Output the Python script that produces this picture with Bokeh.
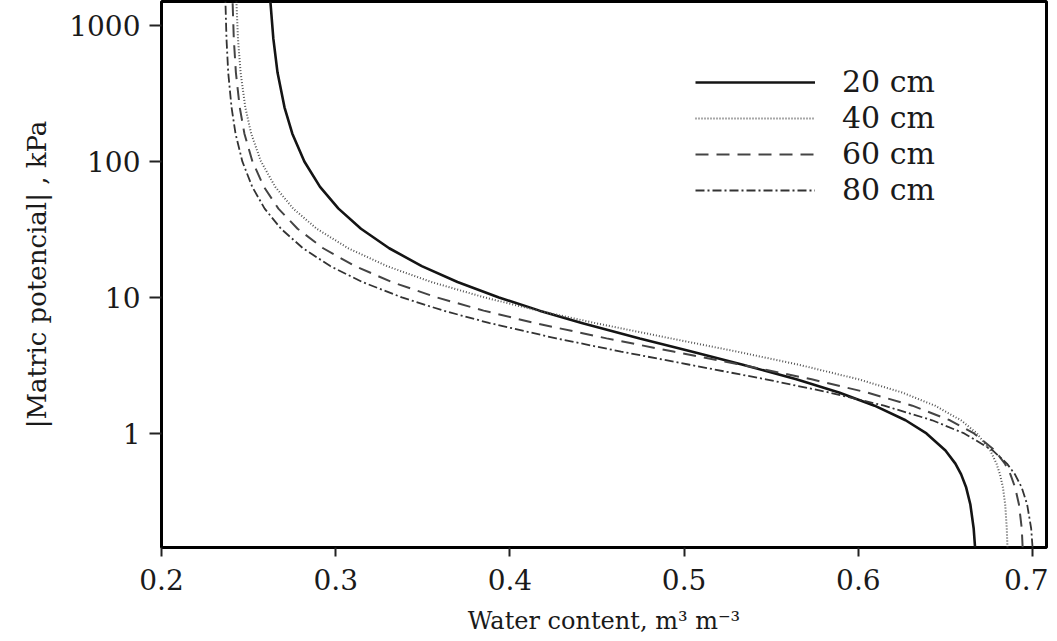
from bokeh.plotting import figure
from bokeh.models import (Legend, LegendItem, FixedTicker, PrintfTickFormatter, Range1d)
from bokeh.embed import file_html
from bokeh.resources import INLINE

# |Matric potential| (kPa) sampled along each curve
H = [0.145, 0.2, 0.3, 0.4, 0.5, 0.6, 0.75, 1, 1.25, 1.6, 2, 2.5, 3.2, 4, 5, 6.5, 8,
     10, 13, 17, 23, 32, 45, 65, 100, 160, 250, 450, 800, 1500]

# Water content (m3 m-3) read for each depth
theta_20 = [0.6670, 0.6662, 0.6643, 0.6619, 0.6590, 0.6557, 0.6500, 0.6391, 0.6271, 0.6093,
            0.5889, 0.5644, 0.5337, 0.5042, 0.4745, 0.4412, 0.4170, 0.3937, 0.3699, 0.3494,
            0.3307, 0.3145, 0.3016, 0.2910, 0.2820, 0.2751, 0.2706, 0.2666, 0.2642, 0.2625]
theta_40 = [0.6856, 0.6852, 0.6843, 0.6830, 0.6813, 0.6793, 0.6757, 0.6681, 0.6589, 0.6440,
            0.6251, 0.6002, 0.5659, 0.5302, 0.4923, 0.4484, 0.4162, 0.3854, 0.3548, 0.3294,
            0.3072, 0.2891, 0.2756, 0.2653, 0.2571, 0.2515, 0.2481, 0.2454, 0.2439, 0.2430]
theta_60 = [0.6943, 0.6938, 0.6922, 0.6900, 0.6873, 0.6841, 0.6783, 0.6664, 0.6526, 0.6310,
            0.6050, 0.5732, 0.5327, 0.4938, 0.4555, 0.4139, 0.3849, 0.3581, 0.3321, 0.3111,
            0.2928, 0.2781, 0.2671, 0.2588, 0.2522, 0.2476, 0.2449, 0.2427, 0.2415, 0.2408]
theta_80 = [0.7000, 0.6992, 0.6969, 0.6938, 0.6899, 0.6853, 0.6771, 0.6608, 0.6424, 0.6148,
            0.5834, 0.5469, 0.5032, 0.4638, 0.4266, 0.3879, 0.3618, 0.3380, 0.3152, 0.2969,
            0.2812, 0.2686, 0.2592, 0.2521, 0.2464, 0.2425, 0.2402, 0.2383, 0.2373, 0.2367]

labels = ["20 cm", "40 cm", "60 cm", "80 cm"]
X_TICKS = [0.2, 0.3, 0.4, 0.5, 0.6, 0.7]
Y_TICKS = [1, 10, 100, 1000]

FONT = "DejaVu Serif"

p = figure(frame_width=885, frame_height=546,
           x_range=Range1d(0.2, 0.708), y_range=Range1d(0.145, 1500),
           y_axis_type="log", output_backend="svg", toolbar_location=None,
           min_border_left=161, min_border_top=1, min_border_right=2,
           min_border_bottom=84)

p.grid.visible = False
p.outline_line_color = "black"
p.outline_line_width = 3
p.background_fill_color = "white"
p.border_fill_color = "white"

r1 = p.line(theta_20, H, line_width=2.6, line_color="#141414")
r2 = p.line(theta_40, H, line_width=2.0, line_color="#555555", line_dash="1 2")
r3 = p.line(theta_60, H, line_width=2.0, line_color="#444444", line_dash="13 8")
r4 = p.line(theta_80, H, line_width=1.8, line_color="#333333", line_dash="9 3 2 3")

legend = Legend(items=[LegendItem(label=labels[i], renderers=[r])
                       for i, r in enumerate([r1, r2, r3, r4])],
                location=(534, 340), glyph_width=120, glyph_height=20,
                label_standoff=27, label_text_font=FONT, label_text_font_size="30px",
                label_text_color="#1a1a1a", label_height=20, spacing=1,
                padding=0, margin=0, border_line_color=None,
                background_fill_alpha=0)
p.add_layout(legend)

for ax in (p.xaxis[0], p.yaxis[0]):
    ax.axis_line_color = None
    ax.minor_tick_line_color = None
    ax.major_tick_in = 0
    ax.major_tick_line_width = 2
    ax.major_tick_line_color = "#222222"
    ax.major_label_text_font = FONT
    ax.major_label_text_font_size = "28px"
    ax.major_label_text_color = "#1a1a1a"
    ax.axis_label_text_font = FONT
    ax.axis_label_text_font_style = "normal"
    ax.axis_label_text_color = "#1a1a1a"

p.xaxis.ticker = FixedTicker(ticks=X_TICKS)
p.xaxis.formatter = PrintfTickFormatter(format="%.1f")
p.xaxis.major_tick_out = 9
p.xaxis.major_label_standoff = 12
p.xaxis.axis_label = "Water content, m³ m⁻³"
p.xaxis.axis_label_text_font_size = "24px"
p.xaxis.axis_label_standoff = 14

p.yaxis.ticker = FixedTicker(ticks=Y_TICKS)
p.yaxis.formatter = PrintfTickFormatter(format="%d")
p.yaxis.major_tick_out = 12
p.yaxis.major_label_standoff = 9
p.yaxis.axis_label = "|Matric potencial| , kPa"
p.yaxis.axis_label_text_font_size = "26px"
p.yaxis.axis_label_standoff = 14

open("out.html", "w").write(file_html(p, INLINE))
